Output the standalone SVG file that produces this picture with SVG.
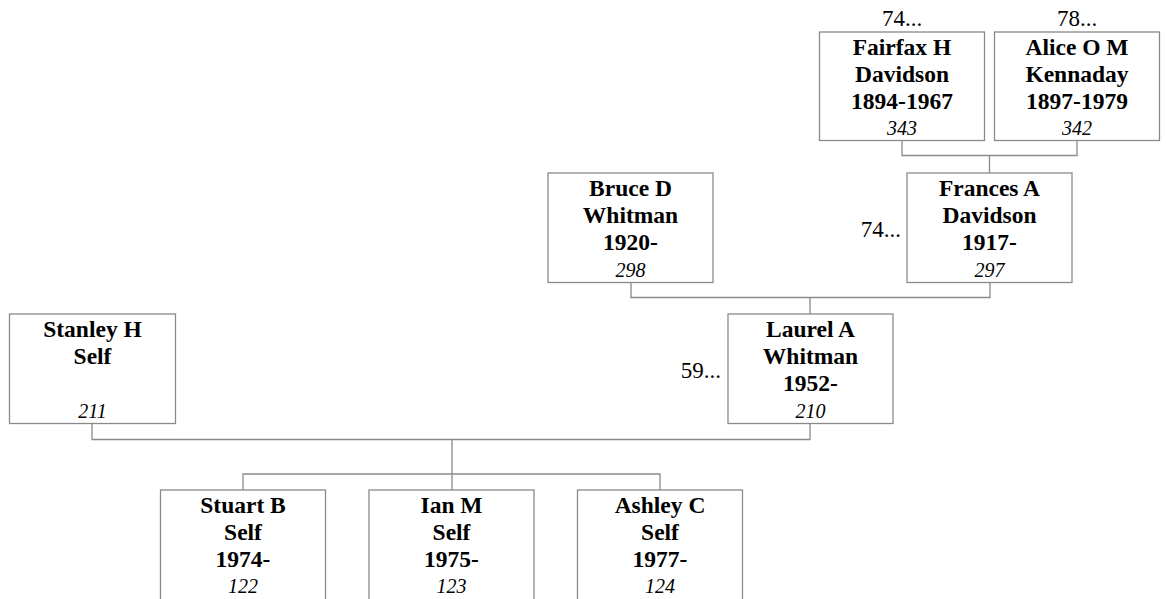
<svg xmlns="http://www.w3.org/2000/svg" width="1166" height="599" viewBox="0 0 1166 599">
<style>
.box{fill:#fff;stroke:#8a8a8a;stroke-width:1.3}
.c{fill:none;stroke:#8a8a8a;stroke-width:1.3}
.n{font-family:"Liberation Serif","Times New Roman",serif;font-weight:bold;font-size:23.5px;fill:#000;text-anchor:middle}
.id{font-family:"Liberation Serif","Times New Roman",serif;font-style:italic;font-size:20px;fill:#000;text-anchor:middle}
.m{font-family:"Liberation Serif","Times New Roman",serif;font-size:23px;fill:#000}
</style>
<rect width="1166" height="599" fill="#fff"/>
<g id="connectors">
<path class="c" d="M902 140.5V155.5H1077V140.5M989.5 155.5V173"/>
<path class="c" d="M631 282.5V297.5H990V282.5M810 297.5V314"/>
<path class="c" d="M92 424V439.5H810V424M452 439.5V474"/>
<path class="c" d="M243 490V474H660V490M452 474V490"/>
</g>
<g id="fairfax">
<text class="m" x="902" y="26" text-anchor="middle">74...</text>
<rect class="box" x="819.5" y="32" width="165" height="108.5"/>
<text class="n" x="902" y="55">Fairfax H</text>
<text class="n" x="902" y="82">Davidson</text>
<text class="n" x="902" y="109">1894-1967</text>
<text class="id" x="902" y="134.5">343</text>
</g>
<g id="alice">
<text class="m" x="1077" y="26" text-anchor="middle">78...</text>
<rect class="box" x="994.5" y="32" width="165" height="108.5"/>
<text class="n" x="1077" y="55">Alice O M</text>
<text class="n" x="1077" y="82">Kennaday</text>
<text class="n" x="1077" y="109">1897-1979</text>
<text class="id" x="1077" y="134.5">342</text>
</g>
<g id="bruce">
<rect class="box" x="548" y="173" width="165" height="109.5"/>
<text class="n" x="630.5" y="196">Bruce D</text>
<text class="n" x="630.5" y="223">Whitman</text>
<text class="n" x="630.5" y="250">1920-</text>
<text class="id" x="630.5" y="276.5">298</text>
</g>
<g id="frances">
<text class="m" x="901" y="237" text-anchor="end">74...</text>
<rect class="box" x="907" y="173" width="165" height="109.5"/>
<text class="n" x="989.5" y="196">Frances A</text>
<text class="n" x="989.5" y="223">Davidson</text>
<text class="n" x="989.5" y="250">1917-</text>
<text class="id" x="989.5" y="276.5">297</text>
</g>
<g id="stanley">
<rect class="box" x="9.5" y="314" width="166" height="109.5"/>
<text class="n" x="92.5" y="337">Stanley H</text>
<text class="n" x="92.5" y="364">Self</text>
<text class="id" x="92.5" y="418">211</text>
</g>
<g id="laurel">
<text class="m" x="721" y="378" text-anchor="end">59...</text>
<rect class="box" x="728" y="314" width="165" height="109.5"/>
<text class="n" x="810.5" y="337">Laurel A</text>
<text class="n" x="810.5" y="364">Whitman</text>
<text class="n" x="810.5" y="391">1952-</text>
<text class="id" x="810.5" y="418">210</text>
</g>
<g id="stuart">
<rect class="box" x="160.5" y="490" width="165" height="115"/>
<text class="n" x="243" y="513">Stuart B</text>
<text class="n" x="243" y="540">Self</text>
<text class="n" x="243" y="567">1974-</text>
<text class="id" x="243" y="593">122</text>
</g>
<g id="ian">
<rect class="box" x="369" y="490" width="165" height="115"/>
<text class="n" x="451.5" y="513">Ian M</text>
<text class="n" x="451.5" y="540">Self</text>
<text class="n" x="451.5" y="567">1975-</text>
<text class="id" x="451.5" y="593">123</text>
</g>
<g id="ashley">
<rect class="box" x="577.5" y="490" width="165" height="115"/>
<text class="n" x="660" y="513">Ashley C</text>
<text class="n" x="660" y="540">Self</text>
<text class="n" x="660" y="567">1977-</text>
<text class="id" x="660" y="593">124</text>
</g>
</svg>
